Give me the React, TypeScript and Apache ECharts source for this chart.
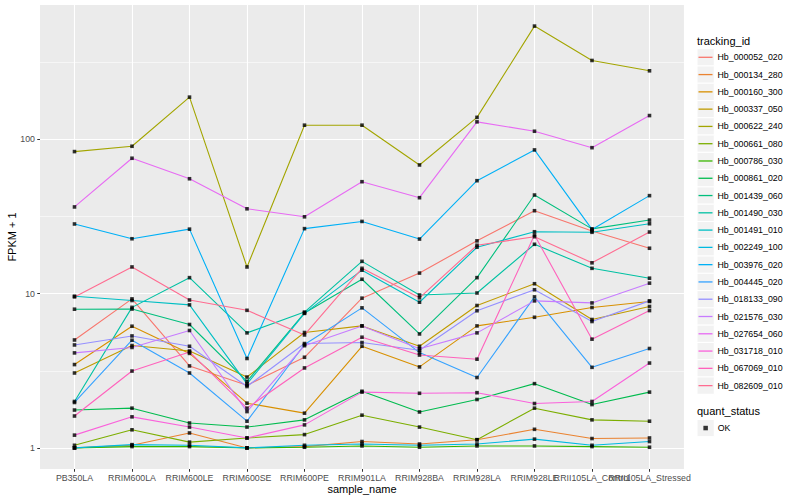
import React, { useEffect, useRef } from "react";
import * as echarts from "echarts";

// ---------- data ----------
const categories = [
  "PB350LA", "RRIM600LA", "RRIM600LE", "RRIM600SE", "RRIM600PE", "RRIM901LA",
  "RRIM928BA", "RRIM928LA", "RRIM928LE", "RRII105LA_Control", "RRII105LA_Stressed",
];

const trackingIds = [
  "Hb_000052_020", "Hb_000134_280", "Hb_000160_300", "Hb_000337_050", "Hb_000622_240",
  "Hb_000661_080", "Hb_000786_030", "Hb_000861_020", "Hb_001439_060", "Hb_001490_030",
  "Hb_001491_010", "Hb_002249_100", "Hb_003976_020", "Hb_004445_020", "Hb_018133_090",
  "Hb_021576_030", "Hb_027654_060", "Hb_031718_010", "Hb_067069_010", "Hb_082609_010",
];

const hueColors = [
  "#F8766D", "#EA8331", "#D89000", "#C09B00", "#A3A500", "#7CAE00", "#39B600", "#00BB4E",
  "#00BF7D", "#00C1A3", "#00BFC4", "#00BAE0", "#00B0F6", "#35A2FF", "#9590FF", "#C77CFF",
  "#E76BF3", "#FA62DB", "#FF62BC", "#FF6C91",
];

// FPKM + 1 per sample (same order as categories)
const hb000052_020 = [5.01, 9.25, 3.40, 2.55, 3.87, 9.35, 13.6, 22.0, 34.5, 25.5, 19.7];
const hb000134_280 = [1.0, 1.04, 1.25, 1.0, 1.02, 1.10, 1.06, 1.13, 1.32, 1.15, 1.16];
const hb000160_300 = [3.47, 6.15, 4.10, 1.95, 1.68, 4.56, 3.35, 6.18, 7.03, 8.13, 8.9];
const hb000337_050 = [3.06, 4.61, 4.25, 2.88, 5.6, 6.18, 4.56, 8.38, 11.6, 6.8, 8.26];
const hb000622_240 = [83.4, 90.3, 188, 14.9, 123.7, 123.7, 68.3, 139, 543, 325, 278.6];
const hb000661_080 = [1.04, 1.31, 1.09, 1.16, 1.22, 1.63, 1.365, 1.13, 1.81, 1.52, 1.49];
const hb000786_030 = [1.0, 1.02, 1.02, 1.0, 1.01, 1.03, 1.01, 1.03, 1.03, 1.02, 1.01];
const hb000861_020 = [1.76, 1.81, 1.45, 1.365, 1.52, 2.33, 1.71, 2.06, 2.61, 1.91, 2.30];
const hb001439_060 = [7.93, 7.95, 6.31, 2.7, 7.5, 12.4, 5.48, 12.7, 43.6, 26.3, 30.0];
const hb001490_030 = [2.00, 8.15, 12.7, 5.57, 7.6, 16.2, 9.8, 10.1, 20.9, 14.6, 12.6];
const hb001491_010 = [9.63, 9.03, 8.46, 2.6, 7.45, 14.2, 8.8, 20.0, 25.2, 25.0, 28.4];
const hb002249_100 = [1.0, 1.05, 1.04, 1.0, 1.04, 1.06, 1.04, 1.06, 1.14, 1.04, 1.10];
const hb003976_020 = [28.3, 22.7, 26.2, 3.8, 26.4, 29.4, 22.6, 54, 85.5, 26.1, 43.2];
const hb004445_020 = [1.97, 4.99, 3.06, 1.49, 4.68, 8.09, 4.15, 2.86, 9.53, 3.33, 4.41];
const hb018133_090 = [4.65, 5.32, 4.56, 2.5, 4.75, 4.82, 4.3, 7.75, 10.6, 6.6, 8.98];
const hb021576_030 = [4.13, 4.48, 5.77, 1.72, 4.6, 6.18, 4.4, 5.57, 8.98, 8.71, 11.7];
const hb027654_060 = [36.5, 75.5, 55.6, 35.5, 31.5, 53.2, 41.9, 130, 113, 88.4, 142.8];
const hb031718_010 = [1.21, 1.59, 1.365, 1.16, 1.41, 2.30, 2.26, 2.28, 1.94, 2.0, 3.55];
const hb067069_010 = [1.61, 3.15, 4.19, 1.81, 3.30, 5.22, 4.0, 3.76, 24.0, 5.07, 7.77];
const hb082609_010 = [9.53, 14.9, 9.1, 7.8, 5.4, 14.6, 9.4, 20.6, 23.4, 15.85, 25.1];

const seriesValues = [
  hb000052_020, hb000134_280, hb000160_300, hb000337_050, hb000622_240,
  hb000661_080, hb000786_030, hb000861_020, hb001439_060, hb001490_030,
  hb001491_010, hb002249_100, hb003976_020, hb004445_020, hb018133_090,
  hb021576_030, hb027654_060, hb031718_010, hb067069_010, hb082609_010,
];

const quantStatus = ["OK"];
const yTickLabels = [1, 10, 100];
const yMinorBreaks = [3.1623, 31.623, 316.23];

// ---------- layout ----------
const FONT = "'Liberation Sans', Arial, Helvetica, sans-serif";
const PANEL_LEFT = 40;
const PANEL_RIGHT = 116;
const PANEL_TOP = 5;
const PANEL_BOTTOM = 31;
const X_EXPAND = 0.6;
const KEY = 17.28;
const LEG_X = 697;
const LEG1_TOP = 48.66;
const LEG2_TOP = 419.4;

export default function App() {
  const ref = useRef<HTMLDivElement>(null);

  useEffect(() => {
    const chart = echarts.init(ref.current!, null, { renderer: "svg" });

    const all = seriesValues.flat();
    const lo = Math.log10(Math.min(...all));
    const hi = Math.log10(Math.max(...all));
    const pad = (hi - lo) * 0.05;
    const yMin = Math.pow(10, lo - pad);
    const yMax = Math.pow(10, hi + pad);
    const xMin = -X_EXPAND;
    const xMax = categories.length - 1 + X_EXPAND;
    // category positions, plus a trailing (hidden) edge entry so that ECharts'
    // min/max-label overlap rule does not drop a real category label
    const xTicks = [...categories.map((_, i) => i), xMax];

    const lineSeries = trackingIds.map((name, s) => ({
      type: "line",
      name,
      xAxisIndex: 0,
      yAxisIndex: 0,
      data: seriesValues[s].map((v, i) => [i, v]),
      symbol: "none",
      showSymbol: false,
      silent: true,
      z: 2,
      color: hueColors[s],
      lineStyle: { color: hueColors[s], width: 1.1 },
    }));

    const points: number[][] = [];
    seriesValues.forEach((vals) => vals.forEach((v, i) => points.push([i, v])));

    const keyBoxes: any[] = trackingIds.map((_, i) => ({
      type: "rect",
      shape: { x: LEG_X, y: LEG1_TOP + i * KEY, width: KEY, height: KEY },
      style: { fill: "#F2F2F2", stroke: "#FFFFFF", lineWidth: 1 },
      silent: true,
    }));
    keyBoxes.push({
      type: "rect",
      shape: { x: LEG_X, y: LEG2_TOP, width: KEY, height: KEY },
      style: { fill: "#F2F2F2", stroke: "#FFFFFF", lineWidth: 1 },
      silent: true,
    });

    const option: any = {
      animation: false,
      backgroundColor: "#FFFFFF",
      textStyle: { fontFamily: FONT },
      grid: {
        left: PANEL_LEFT,
        right: PANEL_RIGHT,
        top: PANEL_TOP,
        bottom: PANEL_BOTTOM,
        show: true,
        backgroundColor: "#EBEBEB",
        borderWidth: 0,
        containLabel: false,
        outerBoundsMode: "none",
      },
      xAxis: {
        type: "value",
        min: xMin,
        max: xMax,
        axisLine: { show: false, onZero: false },
        axisTick: {
          show: true,
          length: 2.75,
          customValues: xTicks,
          lineStyle: { color: "#333333", width: 1 },
        },
        axisLabel: {
          customValues: xTicks,
          formatter: (v: number) =>
            Number.isInteger(v) ? categories[v] ?? "" : "",
          color: "#4D4D4D",
          fontSize: 8.8,
          fontFamily: FONT,
          margin: 4.5,
          hideOverlap: false,
          showMaxLabel: false,
        },
        splitLine: { show: true, lineStyle: { color: "#FFFFFF", width: 1.1 } },
        name: "sample_name",
        nameLocation: "middle",
        nameGap: 14,
        nameMoveOverlap: false,
        nameTextStyle: { fontSize: 11, color: "#000000", fontFamily: FONT },
      },
      yAxis: {
        type: "log",
        logBase: 10,
        min: yMin,
        max: yMax,
        axisLine: { show: false, onZero: false },
        axisTick: {
          show: true,
          length: 2.75,
          customValues: yTickLabels,
          lineStyle: { color: "#333333", width: 1 },
        },
        axisLabel: {
          customValues: yTickLabels,
          color: "#4D4D4D",
          fontSize: 8.8,
          fontFamily: FONT,
          margin: 5,
        },
        splitLine: { show: true, lineStyle: { color: "#FFFFFF", width: 1.1 } },
        name: "FPKM + 1",
        nameLocation: "middle",
        nameGap: 22.5,
        nameMoveOverlap: false,
        nameTextStyle: { fontSize: 11, color: "#000000", fontFamily: FONT },
      },
      legend: [
        {
          orient: "vertical",
          left: LEG_X + 1.5,
          top: LEG1_TOP,
          padding: 0,
          itemGap: 0,
          itemWidth: 14,
          itemHeight: 1.3,
          icon: "rect",
          itemStyle: { borderWidth: 0 },
          selectedMode: false,
          textStyle: { fontSize: 8.8, lineHeight: KEY, color: "#000000", fontFamily: FONT },
          data: trackingIds,
        },
        {
          orient: "vertical",
          left: LEG_X + KEY / 2 - 2.25,
          top: LEG2_TOP,
          padding: 0,
          itemGap: 0,
          itemWidth: 4.5,
          itemHeight: 4.5,
          icon: "rect",
          itemStyle: { borderWidth: 0 },
          selectedMode: false,
          textStyle: {
            fontSize: 8.8,
            lineHeight: KEY,
            color: "#000000",
            fontFamily: FONT,
            padding: [0, 0, 0, 4.9],
          },
          data: quantStatus,
        },
      ],
      graphic: [
        ...keyBoxes,
        {
          type: "text",
          x: LEG_X,
          y: 40.5,
          style: {
            text: "tracking_id",
            fontSize: 11,
            fontFamily: FONT,
            fill: "#000000",
            verticalAlign: "middle",
          },
          silent: true,
        },
        {
          type: "text",
          x: LEG_X,
          y: 410.5,
          style: {
            text: "quant_status",
            fontSize: 11,
            fontFamily: FONT,
            fill: "#000000",
            verticalAlign: "middle",
          },
          silent: true,
        },
      ],
      series: [
        {
          type: "line",
          name: "minor-grid",
          xAxisIndex: 0,
          yAxisIndex: 0,
          data: [],
          silent: true,
          z: 1,
          markLine: {
            silent: true,
            z: 1,
            symbol: ["none", "none"],
            label: { show: false },
            emphasis: { disabled: true },
            lineStyle: { color: "#FFFFFF", width: 0.55, type: "solid" },
            data: yMinorBreaks.map((v) => ({ yAxis: v })),
          },
        },
        ...lineSeries,
        {
          type: "scatter",
          name: quantStatus[0],
          xAxisIndex: 0,
          yAxisIndex: 0,
          data: points,
          symbol: "rect",
          symbolSize: 3.6,
          itemStyle: { color: "#000000" },
          silent: true,
          z: 3,
        },
      ],
    };

    chart.setOption(option);
    return () => chart.dispose();
  }, []);

  return (
    <div
      ref={ref}
      style={{ position: "fixed", left: 0, top: 0, width: 800, height: 500 }}
    />
  );
}
